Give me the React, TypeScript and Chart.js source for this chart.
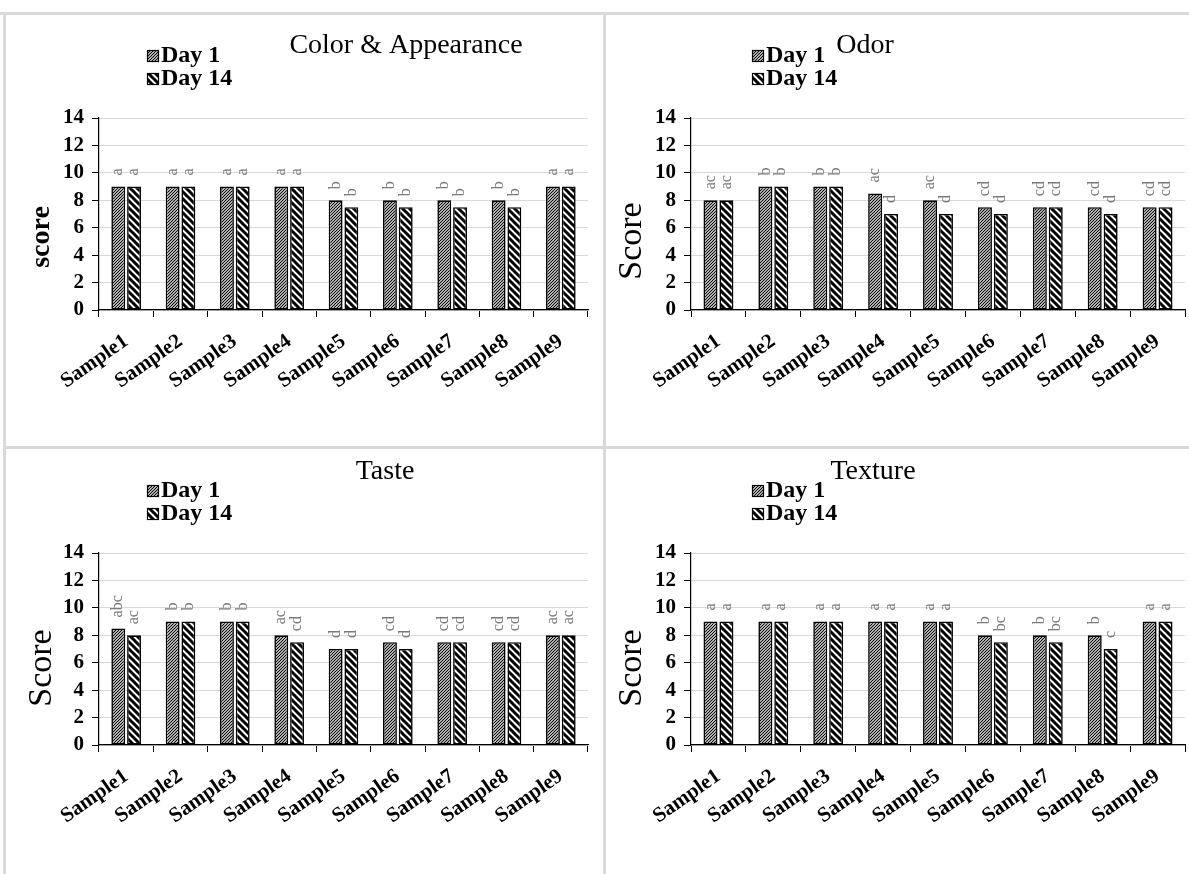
import React, { useEffect, useRef } from 'react';
import { Chart, registerables } from 'chart.js';

Chart.register(...registerables);

// ---------- data ----------
const categories = ['Sample1', 'Sample2', 'Sample3', 'Sample4', 'Sample5', 'Sample6', 'Sample7', 'Sample8', 'Sample9'];
const seriesNames = ['Day 1', 'Day 14'];
const yTickLabels = ['0', '2', '4', '6', '8', '10', '12', '14'];

const colorDay1 = [9, 9, 9, 9, 8, 8, 8, 8, 9];
const colorDay14 = [9, 9, 9, 9, 7.5, 7.5, 7.5, 7.5, 9];
const colorLetters1 = ['a', 'a', 'a', 'a', 'b', 'b', 'b', 'b', 'a'];
const colorLetters14 = ['a', 'a', 'a', 'a', 'b', 'b', 'b', 'b', 'a'];

const odorDay1 = [8, 9, 9, 8.5, 8, 7.5, 7.5, 7.5, 7.5];
const odorDay14 = [8, 9, 9, 7, 7, 7, 7.5, 7, 7.5];
const odorLetters1 = ['ac', 'b', 'b', 'ac', 'ac', 'cd', 'cd', 'cd', 'cd'];
const odorLetters14 = ['ac', 'b', 'b', 'd', 'd', 'd', 'cd', 'd', 'cd'];

const tasteDay1 = [8.5, 9, 9, 8, 7, 7.5, 7.5, 7.5, 8];
const tasteDay14 = [8, 9, 9, 7.5, 7, 7, 7.5, 7.5, 8];
const tasteLetters1 = ['abc', 'b', 'b', 'ac', 'd', 'cd', 'cd', 'cd', 'ac'];
const tasteLetters14 = ['ac', 'b', 'b', 'cd', 'd', 'd', 'cd', 'cd', 'ac'];

const textureDay1 = [9, 9, 9, 9, 9, 8, 8, 8, 9];
const textureDay14 = [9, 9, 9, 9, 9, 7.5, 7.5, 7, 9];
const textureLetters1 = ['a', 'a', 'a', 'a', 'a', 'b', 'b', 'b', 'a'];
const textureLetters14 = ['a', 'a', 'a', 'a', 'a', 'bc', 'bc', 'c', 'a'];

// ---------- layout ----------
type Panel = {
  title: string;
  yTitle: string;
  yTitleFont: string;
  day1: number[];
  day14: number[];
  letters1: string[];
  letters14: string[];
  x: number; y: number; w: number; h: number;
  area: { left: number; right: number; top: number; bottom: number };
  titleX: number; titleY: number;
  legendX: number; legendY: number;
  yTitleX: number; yTitleY: number;
};

const SERIF = '"Liberation Serif", "Times New Roman", serif';

const panels: Panel[] = [
  {
    title: 'Color & Appearance', yTitle: 'score', yTitleFont: `bold 28px ${SERIF}`,
    day1: colorDay1, day14: colorDay14, letters1: colorLetters1, letters14: colorLetters14,
    x: 6, y: 15, w: 597, h: 431,
    area: { left: 93, right: 582, top: 103, bottom: 295 },
    titleX: 400, titleY: 38, legendX: 141, legendY: 35, yTitleX: 36, yTitleY: 222,
  },
  {
    title: 'Odor', yTitle: 'Score', yTitleFont: `34px ${SERIF}`,
    day1: odorDay1, day14: odorDay14, letters1: odorLetters1, letters14: odorLetters14,
    x: 606, y: 15, w: 583, h: 431,
    area: { left: 85, right: 579, top: 103, bottom: 295 },
    titleX: 259, titleY: 38, legendX: 146, legendY: 35, yTitleX: 26, yTitleY: 226,
  },
  {
    title: 'Taste', yTitle: 'Score', yTitleFont: `34px ${SERIF}`,
    day1: tasteDay1, day14: tasteDay14, letters1: tasteLetters1, letters14: tasteLetters14,
    x: 6, y: 449, w: 597, h: 425,
    area: { left: 93, right: 582, top: 104, bottom: 296 },
    titleX: 379, titleY: 30, legendX: 141, legendY: 36, yTitleX: 36, yTitleY: 219,
  },
  {
    title: 'Texture', yTitle: 'Score', yTitleFont: `34px ${SERIF}`,
    day1: textureDay1, day14: textureDay14, letters1: textureLetters1, letters14: textureLetters14,
    x: 606, y: 449, w: 583, h: 425,
    area: { left: 85, right: 579, top: 104, bottom: 296 },
    titleX: 267, titleY: 30, legendX: 146, legendY: 36, yTitleX: 26, yTitleY: 219,
  },
];

function makePattern(ctx: CanvasRenderingContext2D, size: number, lw: number, forward: boolean) {
  const c = document.createElement('canvas');
  c.width = size;
  c.height = size;
  const g = c.getContext('2d')!;
  g.fillStyle = '#fff';
  g.fillRect(0, 0, size, size);
  g.strokeStyle = '#000';
  g.lineWidth = lw;
  g.lineCap = 'square';
  g.beginPath();
  if (forward) {
    g.moveTo(-1, size + 1); g.lineTo(size + 1, -1);
    g.moveTo(-1, 1); g.lineTo(1, -1);
    g.moveTo(size - 1, size + 1); g.lineTo(size + 1, size - 1);
  } else {
    g.moveTo(-1, -1); g.lineTo(size + 1, size + 1);
    g.moveTo(-1, size - 1); g.lineTo(1, size + 1);
    g.moveTo(size - 1, -1); g.lineTo(size + 1, 1);
  }
  g.stroke();
  return ctx.createPattern(c, 'repeat')!;
}

function PanelChart({ p }: { p: Panel }) {
  const ref = useRef<HTMLCanvasElement>(null);
  useEffect(() => {
    const canvas = ref.current!;
    const ctx = canvas.getContext('2d')!;
    const pat1 = makePattern(ctx, 3, 1.2, true);
    const pat2 = makePattern(ctx, 7, 3, false);
    const patterns = [pat1, pat2];
    const letters = [p.letters1, p.letters14];

    const decor = {
      id: 'decor',
      afterDatasetsDraw(chart: any) {
        const c = chart.ctx as CanvasRenderingContext2D;
        chart.data.datasets.forEach((_ds: any, i: number) => {
          const meta = chart.getDatasetMeta(i);
          meta.data.forEach((el: any, j: number) => {
            c.save();
            c.translate(el.x, el.y - 11);
            c.rotate(-Math.PI / 2);
            c.font = `16px ${SERIF}`;
            c.fillStyle = '#7a7a7a';
            c.textAlign = 'left';
            c.textBaseline = 'middle';
            c.fillText(letters[i][j], 0, 0);
            c.restore();
          });
        });
      },
      afterDraw(chart: any) {
        const c = chart.ctx as CanvasRenderingContext2D;
        c.save();
        // title
        c.font = `28px ${SERIF}`;
        c.fillStyle = '#000';
        c.textAlign = 'center';
        c.textBaseline = 'alphabetic';
        c.fillText(p.title, p.titleX, p.titleY);
        // legend
        seriesNames.forEach((name, i) => {
          const sx = p.legendX;
          const sy = p.legendY + i * 23;
          c.fillStyle = patterns[i];
          c.fillRect(sx, sy, 12, 12);
          c.strokeStyle = '#000';
          c.lineWidth = 1.2;
          c.strokeRect(sx + 0.5, sy + 0.5, 11, 11);
          c.fillStyle = '#000';
          c.font = `bold 24px ${SERIF}`;
          c.textAlign = 'left';
          c.textBaseline = 'middle';
          c.fillText(name, sx + 14, sy + 6);
        });
        // y title
        c.translate(p.yTitleX, p.yTitleY);
        c.rotate(-Math.PI / 2);
        c.font = p.yTitleFont;
        c.fillStyle = '#000';
        c.textAlign = 'center';
        c.textBaseline = 'middle';
        c.fillText(p.yTitle, 0, 0);
        c.restore();
      },
    };

    const xH = p.h - p.area.bottom;
    const yW = p.area.left;

    const chart = new Chart(canvas, {
      type: 'bar',
      data: {
        labels: categories,
        datasets: [
          {
            label: seriesNames[0], data: p.day1, backgroundColor: pat1, borderColor: '#000',
            borderWidth: 1.6, borderSkipped: false, categoryPercentage: 0.58, barPercentage: 0.88,
          },
          {
            label: seriesNames[1], data: p.day14, backgroundColor: pat2, borderColor: '#000',
            borderWidth: 1.6, borderSkipped: false, categoryPercentage: 0.58, barPercentage: 0.88,
          },
        ],
      },
      options: {
        animation: false,
        responsive: false,
        events: [],
        layout: { padding: { left: 0, top: p.area.top, right: p.w - p.area.right, bottom: 0 } },
        plugins: {
          legend: { display: false },
          title: { display: false },
          tooltip: { enabled: false },
        },
        scales: {
          x: {
            grid: { display: true, drawOnChartArea: false, drawTicks: true, tickLength: 7, color: '#000', offset: true },
            border: { display: true, color: '#000', width: 1.2 },
            ticks: {
              autoSkip: false, maxRotation: 35, minRotation: 35, padding: 12, color: '#000',
              font: { family: SERIF, weight: 'bold', size: 21 },
            },
            afterFit: (s: any) => { s.height = xH; },
          },
          y: {
            min: 0, max: 14,
            ticks: {
              autoSkip: false,
              stepSize: 2, padding: 8, color: '#000',
              font: { family: SERIF, weight: 'bold', size: 21 },
              callback: (_v: any, i: number) => yTickLabels[i],
            },
            grid: { color: '#d9d9d9', tickColor: '#000', tickLength: 7, lineWidth: 1 },
            border: { display: true, color: '#000', width: 1.2 },
            afterFit: (s: any) => { s.width = yW; },
          },
        },
      },
      plugins: [decor],
    } as any);
    return () => chart.destroy();
  }, [p]);

  return (
    <div style={{ position: 'absolute', left: p.x, top: p.y, width: p.w, height: p.h, background: '#fff' }}>
      <canvas ref={ref} width={p.w} height={p.h} style={{ width: p.w, height: p.h, display: 'block' }} />
    </div>
  );
}

export default function App() {
  const line = '#d9d9d9';
  return (
    <div style={{ position: 'absolute', left: 0, top: 0, width: 1189, height: 874, background: '#fff', overflow: 'hidden' }}>
      {panels.map((p, i) => <PanelChart key={i} p={p} />)}
      <div style={{ position: 'absolute', left: 0, top: 12, width: 1189, height: 3, background: line }} />
      <div style={{ position: 'absolute', left: 3, top: 12, width: 3, height: 862, background: line }} />
      <div style={{ position: 'absolute', left: 603, top: 12, width: 3, height: 862, background: line }} />
      <div style={{ position: 'absolute', left: 3, top: 446, width: 1186, height: 3, background: line }} />
    </div>
  );
}
